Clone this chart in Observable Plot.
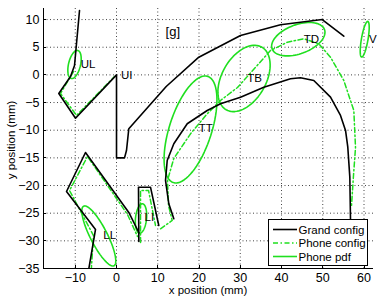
<!DOCTYPE html>
<html>
<head>
<meta charset="utf-8">
<script src="https://cdn.jsdelivr.net/npm/d3@7"></script>
<script src="https://cdn.jsdelivr.net/npm/@observablehq/plot@0.6"></script>
<style>
  html, body { margin: 0; padding: 0; background: #fff; }
  #chart { width: 380px; height: 299px; }
</style>
</head>
<body>
<div id="chart"></div>
<script>
// ---- axis setup ----
const xTicks = [-10, 0, 10, 20, 30, 40, 50, 60];
const yTicks = [-35, -30, -25, -20, -15, -10, -5, 0, 5, 10];
const xLabel = "x position (mm)";
const yLabel = "y position (mm)";
const panelTitle = "[g]";

// ---- Grand config (black contours) ----
const grandUpper = [[-8.97, 11.64], [-10.18, 1.70], [-11.15, -0.29], [-13.99, -3.36], [-9.94, -7.83],
  [0, 0], [0, -15], [1.94, -15], [2.42, -13.67], [2.98, -9.74], [12.05, -2.10], [19.95, 3.20],
  [30.06, 7.12], [39.76, 9.06], [49.87, 10.01], [55.10, 7.0]];
const grandTongue = [[13.89, -26.01], [12.68, -23.30], [11.88, -19.09], [12.29, -15.47], [13.89, -12.45],
  [17.14, -8.84], [21.99, -6.44], [25.21, -5.22], [30.06, -4.03], [35.71, -2.22], [42.18, -0.70],
  [44.61, -0.52], [47.83, -1.01], [51.88, -4.03], [54.30, -7.34], [55.52, -10.05], [56.07, -13.07],
  [56.56, -18.49], [56.73, -26.32], [56.73, -33.9]];
const grandLowerLip = [[-7.0, -36.3], [-5.09, -27.94], [-12.12, -21.08], [-7.52, -14.03], [2.98, -24.87], [5.41, -28.49]];
const grandLowerInc = [[5.41, -30.11], [5.33, -20.30], [8.24, -20.30], [10.25, -27.22]];

// ---- Phone config (green dash-dot contours) ----
const phoneUpper = [[-10.42, 0.61], [-13.58, -3.36], [-9.70, -7.34], [-0.48, -0.29]];
const phoneTongue = [[10.67, -27.82], [13.50, -26.32], [12.61, -23.61], [12.36, -19.09], [13.89, -15.11],
  [17.94, -10.65], [21.99, -7.03], [25.21, -4.63], [29.33, -2.28], [30.86, -1.01], [37.33, 4.41],
  [41.45, 5.91], [45.41, 6.53], [49.04, 5.62], [51.88, 3.20], [55.10, -1.01], [57.53, -6.44],
  [57.94, -13.12], [57.45, -18.18], [56.97, -23.61]];
const phoneLowerLip = [[-6.13, -35.36], [-5.58, -29.04], [-11.39, -20.90], [-7.03, -14.75], [2.67, -25.24], [5.09, -29.22]];
const phoneLowerInc = [[5.82, -30.30], [5.82, -20.9], [7.76, -20.9], [9.45, -27.22]];

// ---- Phone pdf ellipses: centre and two conjugate half-axis vectors (mm) ----
const pdfNames = ["UL", "V", "TD", "TB", "TT", "LL", "LI"];
const pdfCX = [-10.18, 60.17, 44.07, 30.91, 17.94, -4.29, 5.94];
const pdfCY = [1.88, 6.44, 6.45, -0.65, -9.87, -29.12, -25.96];
const pdfUX = [0.80, 0.75, 6.35, 4.32, 4.17, 3.68, 0.36];
const pdfUY = [2.53, 3.22, 1.75, 5.66, 9.60, -5.39, 2.66];
const pdfVX = [1.41, 0.79, 1.22, 4.63, 4.87, -1.84, 1.33];
const pdfVY = [-0.25, -0.10, -2.46, -1.97, -1.17, -0.70, -0.10];

// ---- articulator labels ----
const labelText = ["UL", "UI", "TT", "TB", "TD", "V", "LL", "LI"];
const labelX = [-8.7, 1.1, 19.95, 31.7, 45.4, 61.2, -3.2, 6.8];
const labelY = [1.88, 0, -9.7, -0.7, 6.5, 6.4, -29.0, -25.8];

// ---- legend ----
const legendNames = ["Grand config", "Phone config", "Phone pdf"];

// ---- build tables ----
const GREEN = "#1fdf1f";
function toRows(name, pts) { return pts.map(([x, y]) => ({id: name, x, y})); }
const grandRows = [
  ...toRows("upper", grandUpper), ...toRows("tongue", grandTongue),
  ...toRows("ll", grandLowerLip), ...toRows("li", grandLowerInc)];
const phoneRows = [
  ...toRows("upper", phoneUpper), ...toRows("tongue", phoneTongue),
  ...toRows("ll", phoneLowerLip), ...toRows("li", phoneLowerInc)];
const ellipseRows = [];
pdfNames.forEach((n, i) => {
  const N = 80;
  for (let k = 0; k <= N; k++) {
    const t = 2 * Math.PI * k / N;
    ellipseRows.push({id: n,
      x: pdfCX[i] + pdfUX[i] * Math.cos(t) + pdfVX[i] * Math.sin(t),
      y: pdfCY[i] + pdfUY[i] * Math.cos(t) + pdfVY[i] * Math.sin(t)});
  }
});
const labels = labelText.map((t, i) => ({t, x: labelX[i], y: labelY[i]}));

const W = 380, H = 299, mL = 43, mR = 7, mT = 8, mB = 31;
const fmt = d => d < 0 ? "\u2212" + Math.abs(d) : String(d);

const chart = Plot.plot({
  width: W, height: H,
  marginLeft: mL, marginRight: mR, marginTop: mT, marginBottom: mB,
  style: {fontFamily: "'Liberation Sans', Arial, sans-serif", fontSize: "12.5px", background: "#fff", color: "#000"},
  x: {domain: [-17.7, 62.3], ticks: xTicks, tickSize: 0, tickPadding: 5, tickFormat: fmt, label: null},
  y: {domain: [-35, 12], ticks: yTicks, tickSize: 0, tickPadding: 4, tickFormat: fmt, label: null},
  marks: [
    Plot.ruleX(xTicks, {stroke: "#444", strokeDasharray: "1,2.5", strokeWidth: 1}),
    Plot.ruleY(yTicks, {stroke: "#444", strokeDasharray: "1,2.5", strokeWidth: 1}),
    Plot.line(ellipseRows, {x: "x", y: "y", z: "id", stroke: GREEN, strokeWidth: 1.6, clip: true}),
    Plot.line(phoneRows, {x: "x", y: "y", z: "id", stroke: GREEN, strokeWidth: 1.5, strokeDasharray: "5,2.5,1.5,2.5", clip: true}),
    Plot.line(grandRows, {x: "x", y: "y", z: "id", stroke: "#000", strokeWidth: 1.6, clip: true}),
    Plot.text(labels, {x: "x", y: "y", text: "t", textAnchor: "start", fontSize: 11.5, fill: "#000"}),
    Plot.text([panelTitle], {x: [11.9], y: [7.7], text: d => d, textAnchor: "start", fontSize: 13, fill: "#000"}),
    Plot.ruleX([-17.7], {stroke: "#000", strokeWidth: 1}),
    Plot.ruleY([-35], {stroke: "#000", strokeWidth: 1})
  ]
});
document.getElementById("chart").appendChild(chart);

// ---- inward ticks, axis titles, legend (layout in pixels) ----
const svg = d3.select(chart);
const sx = chart.scale("x"), sy = chart.scale("y");
const gT = svg.append("g").attr("stroke", "#000").attr("stroke-width", 1);
xTicks.forEach(v => { const px = Math.round(sx.apply(v)) + 0.5;
  gT.append("line").attr("x1", px).attr("x2", px).attr("y1", H - mB).attr("y2", H - mB - 3); });
yTicks.forEach(v => { const py = Math.round(sy.apply(v)) + 0.5;
  gT.append("line").attr("x1", mL).attr("x2", mL + 3).attr("y1", py).attr("y2", py); });

svg.append("text").attr("x", (mL + W - mR) / 2).attr("y", 294).attr("text-anchor", "middle")
  .attr("font-size", 11.5).attr("fill", "#000").text(xLabel);
svg.append("text").attr("transform", "translate(15,140) rotate(-90)").attr("text-anchor", "middle")
  .attr("font-size", 11.5).attr("fill", "#000").text(yLabel);

const lg = svg.append("g").attr("text-anchor", "start");
lg.append("rect").attr("x", 268.5).attr("y", 219.5).attr("width", 99).attr("height", 46)
  .attr("fill", "#fff").attr("stroke", "#000").attr("stroke-width", 1);
const rowsY = [229.5, 243, 256.5];
const lstyles = [
  {stroke: "#000", dash: null},
  {stroke: GREEN, dash: "5,2.5,1.5,2.5"},
  {stroke: GREEN, dash: null}];
legendNames.forEach((n, i) => {
  const l = lg.append("line").attr("x1", 273).attr("x2", 297).attr("y1", rowsY[i]).attr("y2", rowsY[i])
    .attr("stroke", lstyles[i].stroke).attr("stroke-width", 1.6);
  if (lstyles[i].dash) l.attr("stroke-dasharray", lstyles[i].dash);
  lg.append("text").attr("x", 298.5).attr("y", rowsY[i]).attr("dy", "0.35em").attr("text-anchor", "start")
    .attr("font-size", 11.5).attr("fill", "#000").text(n);
});
</script>
</body>
</html>
